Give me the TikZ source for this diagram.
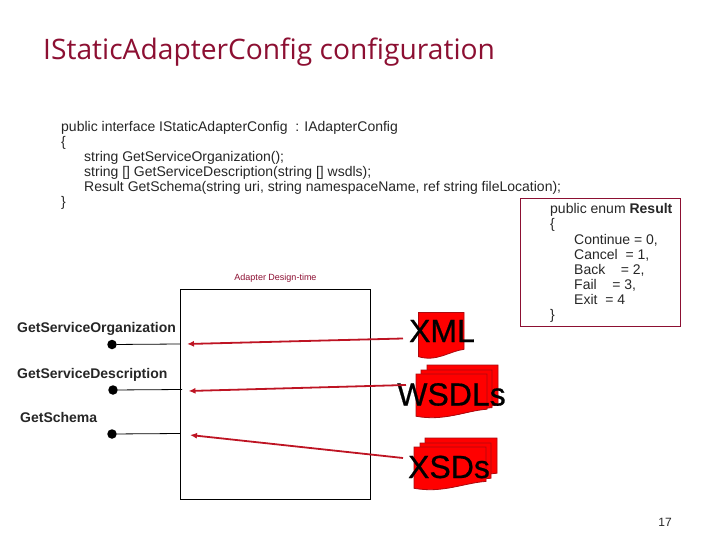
\documentclass[tikz,border=0pt]{standalone}
\usepackage{fontspec}
\setmainfont{Liberation Sans}
\newfontfamily\titlefont{Open Sans}
\newfontfamily\bigfont[FakeBold=0.6]{Liberation Sans}
\usetikzlibrary{arrows.meta}
\definecolor{darkred}{RGB}{140,15,50}
\definecolor{docred}{RGB}{255,0,0}
\definecolor{docedge}{RGB}{170,10,15}
\definecolor{arrowred}{RGB}{190,20,35}
\tikzset{
 code/.style={anchor=base west,inner sep=0pt,font=\fontsize{14}{15}\selectfont,text=black!85},
 method/.style={anchor=base west,inner sep=0pt,font=\fontsize{14}{15}\selectfont\bfseries,text=black!85},
 big/.style={anchor=base,inner sep=0pt,font=\bigfont\fontsize{32}{32}\selectfont,text=black},
 dot/.style={circle,fill=black,inner sep=0pt,minimum size=9.5pt},
 doc/.style={fill=docred,draw=docedge,line width=0.8pt},
 conn/.style={draw=black,line width=0.8pt},
 arr/.style={draw=arrowred,line width=1.8pt,-{Latex[length=7pt,width=6pt]}},
}
\newcommand{\docshape}[4]{%
 \path[doc] (#1,#2) -- (#1+#3,#2) -- (#1+#3,#2+#4*0.8)
  .. controls (#1+#3*0.68,#2+#4*0.84) and (#1+#3*0.4,#2+#4*1.08) .. (#1,#2+#4*0.96) -- cycle;}
\begin{document}
\begin{tikzpicture}[x=1pt,y=-1pt]
\useasboundingbox (0,0) rectangle (720,540);
\node[anchor=base west,inner sep=0pt,text=darkred,font=\titlefont\fontsize{28.2}{30}\selectfont] (title) at (43,60) {IStaticAdapterConfig configuration};

\node[code] (c1) at (61,132) {public interface IStaticAdapterConfig\ \ : IAdapterConfig};
\node[code] (c2) at (61,147) {\{};
\node[code] (c3) at (84,162) {string GetServiceOrganization();};
\node[code] (c4) at (84,177) {string [] GetServiceDescription(string [] wsdls);};
\node[code] (c5) at (84,192) {Result GetSchema(string uri, string namespaceName, ref string fileLocation);};
\node[code] (c6) at (61,207) {\}};

\node[draw=darkred,line width=0.8pt,minimum width=159.5pt,minimum height=127.5pt,inner sep=0pt,anchor=north west] (enumbox) at (520,198.5) {};
\node[code] (e1) at (550,214) {public enum \textbf{Result}};
\node[code] (e2) at (550,229) {\{};
\node[code] (e3) at (574,244) {Continue = 0,};
\node[code] (e4) at (574,259) {Cancel\ \ = 1,};
\node[code] (e5) at (574,274) {Back\ \ \ \ = 2,};
\node[code] (e6) at (574,289) {Fail\ \ \ \ = 3,};
\node[code] (e7) at (574,304) {Exit\ \ = 4};
\node[code] (e8) at (550,319) {\}};

\node[anchor=base,inner sep=0pt,text=darkred,font=\fontsize{9}{10}\selectfont] (dt) at (275.5,280) {Adapter Design-time};

\node[draw=black,line width=0.8pt,minimum width=190.5pt,minimum height=209.5pt,inner sep=0pt,anchor=north west] (box) at (179.7,289.3) {};

\node[method] (m1) at (17,332) {GetServiceOrganization};
\node[method] (m2) at (17,378) {GetServiceDescription};
\node[method] (m3) at (20,422) {GetSchema};

\node[dot] (d1) at (112,344.5) {};
\node[dot] (d2) at (113,390) {};
\node[dot] (d3) at (112,434) {};
\coordinate (b1) at (180,344);
\coordinate (b2) at (182,389.5);
\coordinate (b3) at (180,433.5);
\draw[conn] (d1) -- (b1);
\draw[conn] (d2) -- (b2);
\draw[conn] (d3) -- (b3);

% documents
\docshape{418.5}{312.5}{45.5}{46}
\docshape{427}{365}{71}{50}
\docshape{421}{370}{71}{47}
\docshape{416}{374}{71}{44}
\docshape{425}{438}{72}{44}
\docshape{420}{443}{71}{44}
\docshape{414}{447}{72}{43}

\node[big] (xml) at (442,342) {XML};
\node[big] (wsdl) at (451.5,405.5) {WSDLs};
\node[big] (xsd) at (449,478) {XSDs};

\coordinate (a1) at (403,338.5);
\coordinate (a2) at (406,385);
\coordinate (a3) at (403,458);
\coordinate (t1) at (187,344);
\coordinate (t2) at (188.5,391);
\coordinate (t3) at (190,435);
\draw[arr] (a1) -- (t1);
\draw[arr] (a2) -- (t2);
\draw[arr] (a3) -- (t3);

\node[anchor=base,inner sep=0pt,font=\fontsize{12}{12}\selectfont,text=black!85] (pg) at (665,526) {17};
\end{tikzpicture}
\end{document}
